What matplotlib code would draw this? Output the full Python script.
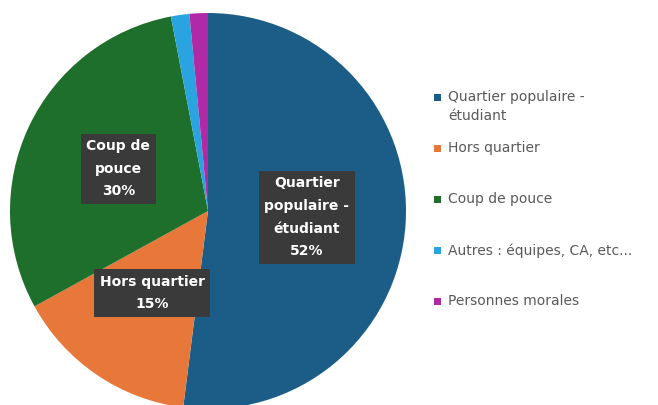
import matplotlib.pyplot as plt
from matplotlib.patches import Rectangle

# Data
labels = ['Quartier populaire -\nétudiant', 'Hors quartier', 'Coup de pouce',
          'Autres : équipes, CA, etc...', 'Personnes morales']
box_labels = ['Quartier\npopulaire -\nétudiant', 'Hors quartier', 'Coup de\npouce', '', '']
values = [52, 15, 30, 1.5, 1.5]
colors = ['#1b5d87', '#e8783a', '#1e6e2c', '#2aa4e0', '#b02aa8']

W, H = 658, 405
fig = plt.figure(figsize=(W / 100, H / 100), dpi=100)
ax = fig.add_axes([0, 0, 1, 1])

# pie centre / radius in pixels (y measured from bottom)
cx, cy, r = 208, H - 211, 198

def fmt(pct, it=iter(range(len(values)))):
    i = next(it)
    if not box_labels[i]:
        return ''
    return '%s\n%d%%' % (box_labels[i], round(pct))

wedges, texts, autotexts = ax.pie(values, colors=colors, startangle=90, counterclock=False,
                                  center=(cx, cy), radius=r, autopct=fmt, pctdistance=0.5,
                                  wedgeprops=dict(linewidth=0))

for t in autotexts:
    if t.get_text():
        t.set_color('white')
        t.set_fontweight('bold')
        t.set_fontsize(10)
        t.set_linespacing(1.78)
        t.set_bbox(dict(boxstyle='square,pad=0.4', facecolor='#3a3a3a', edgecolor='none'))

ax.set_xlim(0, W)
ax.set_ylim(0, H)
ax.set_aspect('equal')
ax.axis('off')

# legend drawn by hand so each entry sits on a fixed slot, marker next to the first line
y0, step = H - 97, 51
for i, (w, lab) in enumerate(zip(wedges, labels)):
    y = y0 - i * step
    ax.add_patch(Rectangle((434, y - 3.5), 7, 7, facecolor=w.get_facecolor(), edgecolor='none'))
    ax.text(448, y + 7, lab, fontsize=10, color='#5a5a5a', va='top', ha='left', linespacing=1.45)

fig.savefig('out.png', dpi=100)
